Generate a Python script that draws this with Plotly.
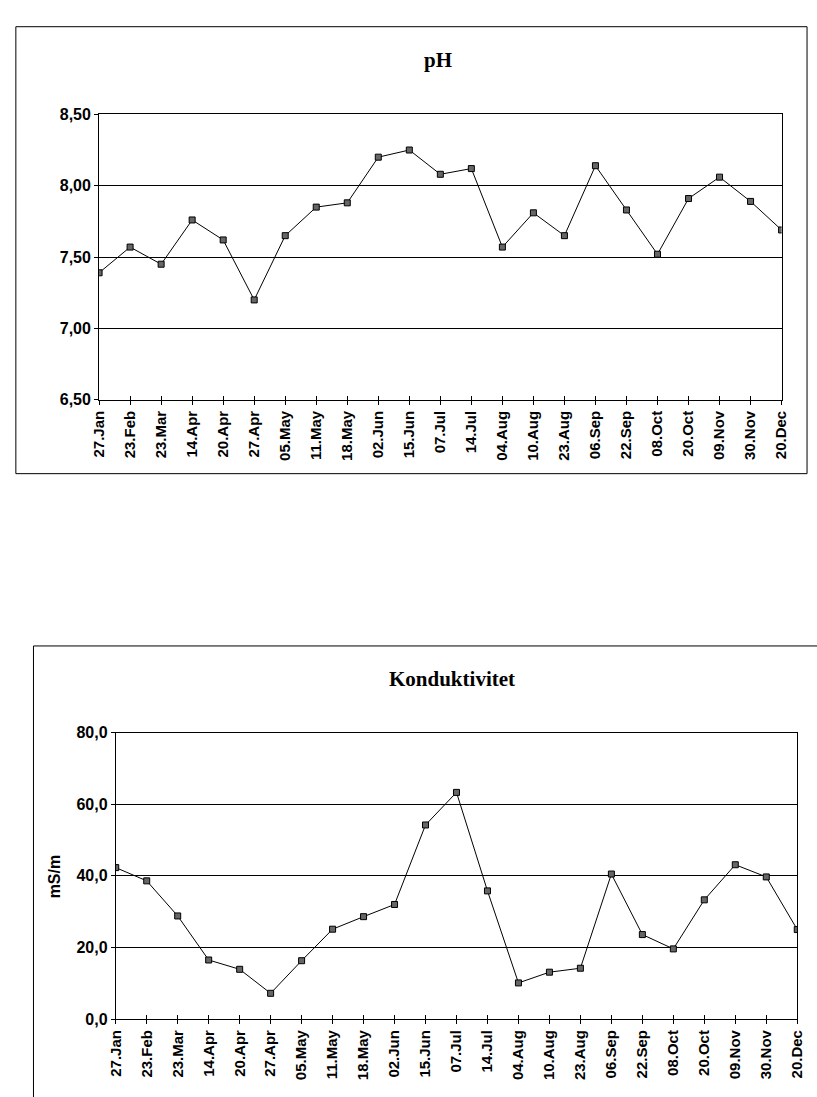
import plotly.graph_objects as go

dates = ["27.Jan", "23.Feb", "23.Mar", "14.Apr", "20.Apr", "27.Apr", "05.May", "11.May",
         "18.May", "02.Jun", "15.Jun", "07.Jul", "14.Jul", "04.Aug", "10.Aug", "23.Aug",
         "06.Sep", "22.Sep", "08.Oct", "20.Oct", "09.Nov", "30.Nov", "20.Dec"]
ph_values = [7.39, 7.57, 7.45, 7.76, 7.62, 7.20, 7.65, 7.85, 7.88, 8.20, 8.25, 8.08,
             8.12, 7.57, 7.81, 7.65, 8.14, 7.83, 7.52, 7.91, 8.06, 7.89, 7.69]
cond_values = [42.3, 38.6, 28.8, 16.5, 13.9, 7.2, 16.3, 25.1, 28.6, 32.0, 54.2, 63.3,
               35.8, 10.1, 13.1, 14.2, 40.5, 23.6, 19.6, 33.3, 43.1, 39.7, 25.0]
ph_title = "pH"
cond_title = "Konduktivitet"
cond_unit = "mS/m"

W, H = 817, 1097

def px(x):
    return x / W

def py(y):
    return 1 - y / H

fig = go.Figure()
marker = dict(symbol="square", size=6, color="#666666", line=dict(color="black", width=1))
fig.add_trace(go.Scatter(x=dates, y=ph_values, mode="lines+markers",
                         line=dict(color="black", width=1), marker=marker,
                         xaxis="x", yaxis="y", showlegend=False))
fig.add_trace(go.Scatter(x=dates, y=cond_values, mode="lines+markers",
                         line=dict(color="black", width=1), marker=marker,
                         xaxis="x2", yaxis="y2", showlegend=False))

xfont = dict(family="Liberation Sans, Arial", size=15, color="black", weight="bold")
yfont = dict(family="Liberation Sans, Arial", size=16, color="black", weight="bold")
xcommon = dict(type="category", range=[0, len(dates) - 1], tickangle=-90,
               tickfont=xfont, showline=True, linecolor="black", linewidth=1,
               mirror=True, ticks="outside", ticklen=4, tickcolor="black",
               showgrid=False, zeroline=False)
ycommon = dict(showline=True, linecolor="black", linewidth=1, mirror=True,
               ticks="outside", ticklen=4, tickcolor="black", tickfont=yfont,
               showgrid=True, gridcolor="black", gridwidth=1, zeroline=False)

fig.update_layout(
    width=W, height=H, margin=dict(l=0, r=0, t=0, b=0),
    paper_bgcolor="white", plot_bgcolor="white",
    separators=",.",
    xaxis=dict(domain=[px(92), px(789)], anchor="y", **xcommon),
    yaxis=dict(domain=[py(398), py(108)], anchor="x", range=[6.5, 8.5], dtick=0.5,
               tickformat=".2f", **ycommon),
    xaxis2=dict(domain=[px(109), px(805)], anchor="y2", **xcommon),
    yaxis2=dict(domain=[py(1027), py(736)], anchor="x2", range=[0, 80], dtick=20,
                tickformat=".1f", **ycommon),
    xaxis3=dict(type="category", overlaying="x", matches="x", anchor="y",
                showticklabels=False, ticks="inside", ticklen=4, tickcolor="black",
                showgrid=False, showline=False, zeroline=False),
    xaxis4=dict(type="category", overlaying="x2", matches="x2", anchor="y2",
                showticklabels=False, ticks="inside", ticklen=4, tickcolor="black",
                showgrid=False, showline=False, zeroline=False),
)
# invisible traces so the overlay axes render their inside ticks
fig.add_trace(go.Scatter(x=dates, y=ph_values, mode="none", xaxis="x3", yaxis="y",
                         showlegend=False, hoverinfo="skip"))
fig.add_trace(go.Scatter(x=dates, y=cond_values, mode="none", xaxis="x4", yaxis="y2",
                         showlegend=False, hoverinfo="skip"))

# chart area borders
fig.add_shape(type="rect", xref="paper", yref="paper", x0=px(7), x1=px(815),
              y0=py(473), y1=py(19), line=dict(color="black", width=1))
fig.add_shape(type="rect", xref="paper", yref="paper", x0=px(25), x1=px(840),
              y0=py(1120), y1=py(648), line=dict(color="black", width=1))

titlefont = dict(family="Liberation Serif, Times New Roman", size=21, color="black",
                 weight="bold")
fig.add_annotation(text=ph_title, xref="paper", yref="paper",
                   x=px(438), y=py(53), xanchor="center", yanchor="middle",
                   showarrow=False, font=titlefont)
fig.add_annotation(text=cond_title, xref="paper", yref="paper",
                   x=px(452), y=py(682), xanchor="center", yanchor="middle",
                   showarrow=False, font=titlefont)
fig.add_annotation(text=cond_unit, xref="paper", yref="paper",
                   x=px(46), y=py(882), xanchor="center", yanchor="middle",
                   showarrow=False, textangle=-90,
                   font=dict(family="Liberation Sans, Arial", size=16, color="black",
                             weight="bold"))

post = ("document.body.style.margin='0px';document.body.style.padding='0px';"
        "document.body.style.overflow='hidden';"
        "document.documentElement.style.overflow='hidden';")
fig.write_html("out.html", post_script=post, config={"displayModeBar": False})
